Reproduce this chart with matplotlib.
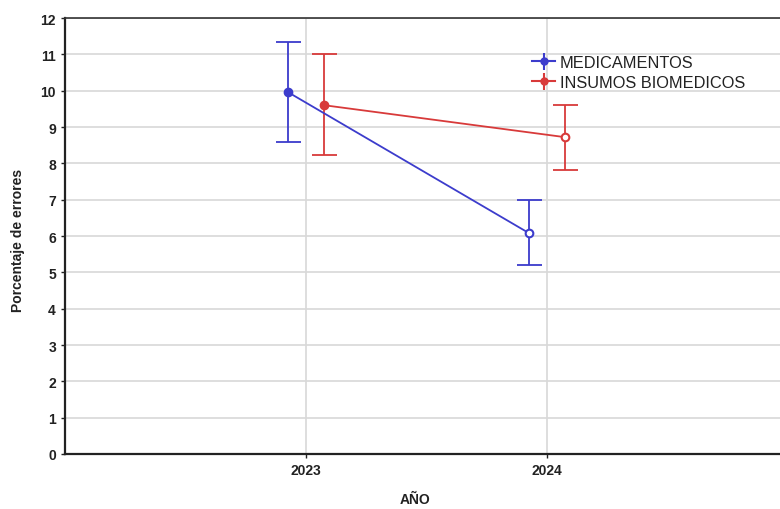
import matplotlib
matplotlib.use("Agg")
import matplotlib.pyplot as plt

years = ["2023", "2024"]
med_mean = [9.96, 6.08]
med_low = [8.59, 5.20]
med_high = [11.34, 6.99]
ins_mean = [9.60, 8.72]
ins_low = [8.23, 7.82]
ins_high = [11.02, 9.60]
series_names = ["MEDICAMENTOS", "INSUMOS BIOMEDICOS"]

plt.rcParams['font.family'] = ['Liberation Sans', 'DejaVu Sans']
fig = plt.figure(figsize=(7.8, 5.1), dpi=100)
ax = fig.add_axes([65/780, 1-455/510, (788-65)/780, (455-19)/510])

blue = "#3c3ccc"
red = "#d83a3a"
xs = [1, 2]
off = 0.075

def draw(mean, low, high, color, dx):
    x = [v + dx for v in xs]
    yerr = [[m - l for m, l in zip(mean, low)], [h - m for m, h in zip(mean, high)]]
    ax.errorbar(x, mean, yerr=yerr, color=color, lw=1.3, capsize=9, capthick=1.3,
                elinewidth=1.3, zorder=3)
    ax.plot(x[:1], mean[:1], 'o', color=color, ms=6, zorder=4)
    ax.plot(x[1:], mean[1:], 'o', color=color, mfc='white', mew=1.5, ms=5.5, zorder=4)

draw(med_mean, med_low, med_high, blue, -off)
draw(ins_mean, ins_low, ins_high, red, off)

ax.set_xlim(0, 3)
ax.set_ylim(0, 12)
ax.set_yticks(range(0, 13))
ax.set_xticks(xs)
ax.set_xticklabels(years)
ax.grid(True, color="#d8d8d8", lw=1.2)
ax.set_axisbelow(True)
for s in ["left", "bottom"]:
    ax.spines[s].set_linewidth(1.6)
    ax.spines[s].set_color("#222222")
ax.spines["top"].set_linewidth(1.2)
ax.spines["top"].set_color("#333333")
ax.spines["right"].set_visible(False)
ax.tick_params(axis='both', length=3, width=1, labelsize=10, colors="#222222")
for lab in ax.get_xticklabels() + ax.get_yticklabels():
    lab.set_fontweight('bold')

fig.text(18/780, 1-240/510, "Porcentaje de errores", rotation=90, ha='center', va='center',
         fontsize=10, fontweight='bold', color="#222222")
fig.text(415/780, 1-500/510, "AÑO", ha='center', va='center', fontsize=10,
         fontweight='bold', color="#222222")

handles = [
    ax.errorbar([], [], yerr=[], color=blue, marker='o', ms=5, capsize=10, capthick=1.5, lw=1.5),
    ax.errorbar([], [], yerr=[], color=red, marker='o', ms=5, capsize=10, capthick=1.5, lw=1.5),
]
leg = ax.legend(handles, series_names, loc='upper left',
                bbox_to_anchor=((524-65)/723, 1-(48-19)/436), frameon=False,
                handlelength=1.4, handletextpad=0.3, labelspacing=0.3,
                prop={'size': 11.8}, borderpad=0)
for t in leg.get_texts():
    t.set_color("#222222")

fig.savefig("out.png", dpi=100)
